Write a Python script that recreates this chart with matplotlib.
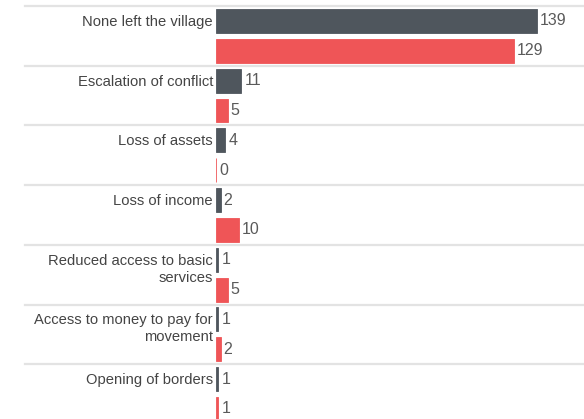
import matplotlib.pyplot as plt

categories = ["None left the village", "Escalation of conflict", "Loss of assets",
              "Loss of income", "Reduced access to basic\nservices",
              "Access to money to pay for\nmovement", "Opening of borders"]
series_a = [139, 11, 4, 2, 1, 1, 1]
series_b = [129, 5, 0, 10, 5, 2, 1]

grey = "#4f565d"
red = "#ef5557"

plt.rcParams['font.family'] = ['Liberation Sans', 'DejaVu Sans']

W, H = 584, 419
fig = plt.figure(figsize=(W / 100, H / 100), dpi=100)
ax_left = 216 / W
ax = fig.add_axes([ax_left, 0, 1 - ax_left, 1])

px_per_unit = 2.31
ax.set_xlim(0, (W - 216) / px_per_unit)
grp = 59.7
ax.set_ylim((H - 6) / grp, -6 / grp)

ya = [i + 0.25 for i in range(len(categories))]
yb = [i + 0.75 for i in range(len(categories))]
ax.barh(ya, series_a, height=0.4, color=grey, edgecolor=grey, linewidth=0.6)
ax.barh(yb, series_b, height=0.4, color=red, edgecolor=red, linewidth=0.6)

line_xmin = (25 - 216) / (W - 216)
for i in range(len(categories)):
    ax.plot([line_xmin, 1], [i, i], transform=ax.get_yaxis_transform(),
            color="#e3e3e3", lw=1.6, clip_on=False, zorder=0)

off = 3 / px_per_unit
for y, v in zip(ya, series_a):
    ax.text(v + off, y, str(v), va="center", ha="left", fontsize=11.5, color="#5a5a5a")
for y, v in zip(yb, series_b):
    ax.text(v + off, y, str(v), va="center", ha="left", fontsize=11.5, color="#5a5a5a")

for y, lab in zip(ya, categories):
    lines = lab.split("\n")
    ax.annotate(lines[0], (0, y), xycoords=("axes fraction", "data"),
                xytext=(-3, -1), textcoords="offset pixels",
                ha="right", va="center", fontsize=10.6, color="#444444")
    if len(lines) > 1:
        ax.annotate(lines[1], (0, y), xycoords=("axes fraction", "data"),
                    xytext=(-3, -18), textcoords="offset pixels",
                    ha="right", va="center", fontsize=10.6, color="#444444")

ax.axis("off")
fig.savefig("out.png", dpi=100)
